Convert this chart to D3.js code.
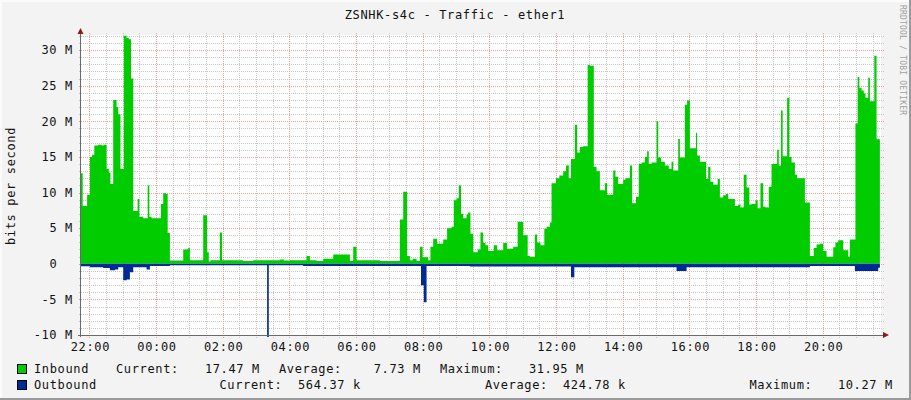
<!DOCTYPE html>
<html><head><meta charset="utf-8">
<script src="https://cdn.jsdelivr.net/npm/d3@7"></script>
<style>
body{margin:0;background:#f3f3f3}
svg{display:block}
text{font-family:"DejaVu Sans Mono",monospace;white-space:pre}
</style>
</head><body>
<svg id="c" width="911" height="400"></svg>
<script>
// ---- data (minutes since 21:45, value in Mbit/s) ----
const inboundMin = [0,3,11,16,20,24,31,37,41,46,50,53,58,64,67,71,77,82,86,90,94,102,105,112,120,123,127,144,148,153,156,160,184,193,196,220,227,230,233,250,254,292,310,358,365,376,406,412,424,436,454,484,490,496,538,574,580,587,592,597,604,610,615,625,629,634,641,652,659,667,671,676,680,684,688,694,697,701,706,714,719,724,728,733,743,749,760,767,778,786,796,804,808,817,821,827,834,838,844,847,855,861,868,873,878,882,889,893,898,904,912,916,923,928,934,943,947,958,962,967,976,980,988,992,999,1004,1009,1015,1019,1022,1027,1036,1039,1044,1051,1058,1063,1066,1075,1078,1087,1091,1096,1107,1109,1114,1125,1129,1133,1138,1146,1150,1156,1161,1165,1177,1183,1187,1193,1198,1203,1207,1214,1218,1223,1228,1232,1238,1243,1253,1256,1260,1263,1271,1275,1279,1285,1289,1303,1312,1319,1324,1330,1336,1342,1354,1358,1363,1372,1381,1384,1394,1398,1401,1405,1409,1412,1417,1420,1428,1432];
const inboundMbps = [12.7,8.1,9.7,15.0,15.3,16.6,16.7,16.6,16.7,13.3,12.8,11.2,23.0,22.0,21.0,13.3,32.0,31.7,31.5,26.0,7.4,9.1,6.6,6.4,11.0,6.6,6.4,8.4,9.9,9.8,4.3,0.45,2.0,2.2,0.5,6.8,1.6,0.3,0.5,4.4,0.5,0.4,0.5,0.6,0.45,0.5,1.1,0.5,0.4,0.7,1.3,0.4,2.4,0.5,0.4,6.2,10.1,1.1,0.5,0.7,0.4,2.4,0.9,0.5,2.4,3.5,2.8,3.4,5.0,5.2,8.9,9.2,11.0,7.0,6.4,6.9,7.2,4.2,1.6,2.0,4.4,2.9,2.6,1.8,2.6,1.9,2.9,2.1,2.4,5.9,4.0,1.1,1.0,4.1,3.0,2.6,4.9,5.2,5.8,11.3,12.0,12.4,13.0,13.8,12.0,14.7,19.5,15.6,16.4,16.5,27.9,27.8,13.6,13.0,10.3,11.3,9.7,13.1,12.2,11.2,11.8,12.0,13.8,8.5,9.4,14.0,14.2,15.0,15.8,14.0,14.2,20.0,14.9,14.3,13.8,13.3,14.3,13.1,17.5,14.9,22.3,22.9,16.2,18.4,15.2,14.3,11.9,13.6,11.5,11.1,11.9,9.3,9.6,9.8,9.1,8.1,8.3,7.9,12.5,10.7,8.3,8.4,8.9,7.8,11.3,8.0,7.9,10.8,14.0,16.0,13.8,21.5,15.1,23.3,15.0,14.2,12.5,12.0,8.6,1.1,2.2,2.7,2.8,1.8,1.0,2.3,3.0,3.3,1.9,1.0,3.4,19.7,26.2,24.7,24.3,23.9,23.3,26.1,22.8,29.2,17.47];
const outboundMin = [0,16,40,52,61,67,76,82,88,94,118,124,160,335,338,400,612,617,622,700,882,888,1072,1090,1312,1393,1435];
const outboundMbps = [0.35,0.5,0.6,0.9,0.8,0.5,2.3,2.2,1.2,0.5,0.8,0.3,0.2,10.27,0.2,0.3,3.0,5.4,0.3,0.4,1.9,0.5,1.0,0.5,0.3,1.0,0.56];
const dataEndMin = 1438;

const yTicks = [-10,-5,0,5,10,15,20,25,30];
const xTickLabels = ["22:00","00:00","02:00","04:00","06:00","08:00","10:00","12:00","14:00","16:00","18:00","20:00"];
const seriesNames = ["Inbound","Outbound"];
const seriesColors = ["#00cc00","#002a97"];
const inboundStats = ["17.47 M","7.73 M","31.95 M"];
const outboundStats = ["564.37 k","424.78 k","10.27 M"];
const titleText = "ZSNHK-s4c - Traffic - ether1";
const yLabel = "bits per second";
const watermark = "RRDTOOL / TOBI OETIKER";

// ---- layout ----
const W = 911, H = 400;
const L = 81, R = 881, T = 35, B = 335;
const start = new Date(2024,0,1,21,45);
const end = d3.timeHour.offset(start, 24);
const x = d3.scaleTime().domain([start,end]).range([L,R]);
const y = d3.scaleLinear().domain([-10,30]).range([B,50]);
const toDate = m => new Date(start.getTime() + m*60000);
const svg = d3.select("#c");
const cw = 7.87;

// background + frame
svg.append("rect").attr("width",W).attr("height",H).attr("fill","#f3f3f3");
svg.append("rect").attr("x",0).attr("y",0).attr("width",W).attr("height",2).attr("fill","#fbfbfb");
svg.append("rect").attr("x",0).attr("y",0).attr("width",2).attr("height",H).attr("fill","#fbfbfb");
svg.append("rect").attr("x",0).attr("y",H-2).attr("width",W).attr("height",2).attr("fill","#9a9a9a");
svg.append("rect").attr("x",W-2).attr("y",0).attr("width",2).attr("height",H).attr("fill","#9a9a9a");

// canvas
svg.append("rect").attr("x",L).attr("y",T).attr("width",R-L).attr("height",B-T).attr("fill","#fff");

// grid
const g = svg.append("g").attr("shape-rendering","crispEdges");
const majorT = x.ticks(d3.timeHour.every(2)).map(d=>+d);
const minorT = x.ticks(d3.timeMinute.every(30)).filter(d=>!majorT.includes(+d));
const minorCol = "#c8c8c8", majorCol = "#f29a9a";
minorT.forEach(d=>{
  const px = Math.round(x(d))+0.5;
  g.append("line").attr("x1",px).attr("x2",px).attr("y1",T-2).attr("y2",B+3)
   .attr("stroke",minorCol).attr("stroke-dasharray","1,1");
});
const yMinor = d3.range(-10,33,1).filter(v=>!yTicks.includes(v) && y(v)>=T);
yMinor.forEach(v=>{
  const py = Math.round(y(v))+0.5;
  g.append("line").attr("x1",L-2).attr("x2",R+3).attr("y1",py).attr("y2",py)
   .attr("stroke",minorCol).attr("stroke-dasharray","1,1");
});
majorT.forEach(d=>{
  const px = Math.round(x(d))+0.5;
  g.append("line").attr("x1",px).attr("x2",px).attr("y1",T-2).attr("y2",B+3)
   .attr("stroke",majorCol).attr("stroke-dasharray","1,1");
});
yTicks.forEach(v=>{
  const py = Math.round(y(v))+0.5;
  g.append("line").attr("x1",L-2).attr("x2",R+3).attr("y1",py).attr("y2",py)
   .attr("stroke",majorCol).attr("stroke-dasharray","1,1");
});

// series
const inPts = inboundMin.map((m,i)=>({t:toDate(m),v:inboundMbps[i]}));
inPts.push({t:toDate(dataEndMin),v:inboundMbps[inboundMbps.length-1]});
const outPts = outboundMin.map((m,i)=>({t:toDate(m),v:-outboundMbps[i]}));
outPts.push({t:toDate(dataEndMin),v:-outboundMbps[outboundMbps.length-1]});
const area = d3.area().curve(d3.curveStepAfter)
  .x(d=>x(d.t)).y0(y(0)).y1(d=>Math.max(T, y(d.v)));
svg.append("path").datum(inPts).attr("d",area).attr("fill",seriesColors[0]);
svg.append("path").datum(outPts).attr("d",area).attr("fill",seriesColors[1]);

// axes
const axisCol = "#6a6a6a", arrowCol = "#8b1a1a";
svg.append("line").attr("x1",80.5).attr("x2",80.5).attr("y1",B+2).attr("y2",32).attr("stroke",axisCol);
svg.append("line").attr("x1",78).attr("x2",884).attr("y1",B+0.5).attr("y2",B+0.5).attr("stroke",axisCol);
svg.append("path").attr("d","M77.5,34 L83.5,34 L80.5,28 Z").attr("fill",arrowCol);
svg.append("path").attr("d","M883,332 L883,338 L889,335 Z").attr("fill",arrowCol);

// y labels
yTicks.forEach(v=>{
  svg.append("text").attr("x", v===0 ? 73-2*cw : 73).attr("y", y(v)+4.3)
    .attr("text-anchor","end").attr("font-size",12).attr("letter-spacing","0.65px").attr("fill","#111")
    .text(v===0 ? "0" : v+" M");
});
// x labels
xTickLabels.forEach(lbl=>{
  const hh = +lbl.slice(0,2);
  let d = new Date(start); d.setHours(hh,0,0,0);
  if (d < start) d = d3.timeDay.offset(d,1);
  svg.append("text").attr("x",x(d)+1).attr("y",351).attr("text-anchor","middle")
    .attr("font-size",12).attr("letter-spacing","0.65px").attr("fill","#111").text(lbl);
});

// title
svg.append("text").attr("x",455).attr("y",18.5).attr("text-anchor","middle")
  .attr("font-size",12).attr("letter-spacing","0.65px").attr("fill","#111").text(titleText);
// y axis label
svg.append("text").attr("transform","translate(15,186) rotate(-90)").attr("text-anchor","middle")
  .attr("font-size",12).attr("letter-spacing","0.65px").attr("fill","#111").text(yLabel);
// watermark
svg.append("text").attr("transform","translate(900,5) rotate(90)")
  .attr("font-size",8).attr("letter-spacing","0.2px").attr("fill","#a0a0a0").text(watermark);

// legend
const legRows = [
  {y:373, name:seriesNames[0], col:seriesColors[0], stats:inboundStats,
   cur:116, curEnd:260, avg:279, avgEnd:421, max:440, maxEnd:584},
  {y:389, name:seriesNames[1], col:seriesColors[1], stats:outboundStats,
   cur:219.5, curEnd:361, avg:485, avgEnd:626, max:749.5, maxEnd:893}
];
legRows.forEach(r=>{
  svg.append("rect").attr("x",17.5).attr("y",r.y-8.5).attr("width",9).attr("height",9)
    .attr("fill",r.col).attr("stroke","#000");
  const t = (xx,s,anchor)=>svg.append("text").attr("x",xx).attr("y",r.y)
    .attr("text-anchor",anchor||"start").attr("font-size",12).attr("letter-spacing","0.65px")
    .attr("fill","#111").text(s);
  t(34,r.name);
  t(r.cur,"Current:"); t(r.curEnd,r.stats[0],"end");
  t(r.avg,"Average:"); t(r.avgEnd,r.stats[1],"end");
  t(r.max,"Maximum:"); t(r.maxEnd,r.stats[2],"end");
});
</script>
</body></html>
